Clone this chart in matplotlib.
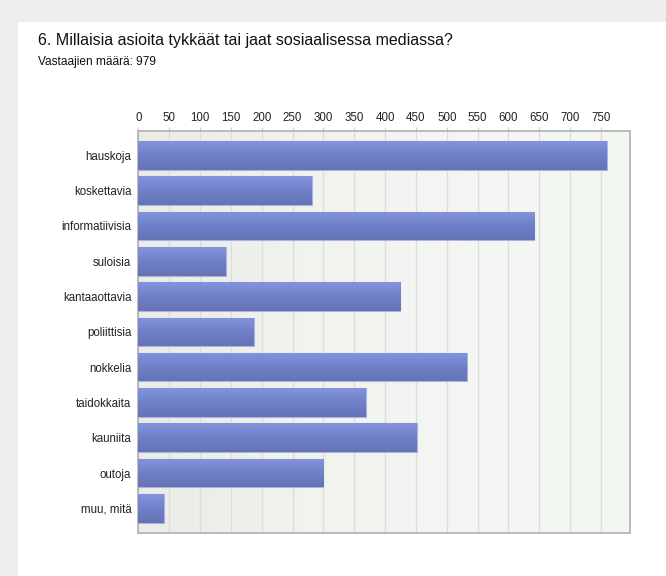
import numpy as np
import matplotlib
matplotlib.use("Agg")
import matplotlib.pyplot as plt
from matplotlib.patches import Rectangle
from matplotlib.colors import LinearSegmentedColormap

plt.rcParams["font.family"] = ["Liberation Sans", "DejaVu Sans"]

# data
categories = ["hauskoja", "koskettavia", "informatiivisia", "suloisia",
              "kantaaottavia", "poliittisia", "nokkelia", "taidokkaita",
              "kauniita", "outoja", "muu, mitä"]
counts = [760, 282, 642, 142, 425, 188, 532, 369, 451, 300, 41]
ticks = list(range(0, 751, 50))

title = "6. Millaisia asioita tykkäät tai jaat sosiaalisessa mediassa?"
subtitle = "Vastaajien määrä: 979"

W, H = 666, 576
fig = plt.figure(figsize=(W / 100, H / 100), dpi=100)
fig.patch.set_facecolor("#efefef")

# white card with a soft shadow on the left/top
for i, c in enumerate(["#e9e9e9", "#e4e4e4", "#ededed"]):
    fig.patches.append(Rectangle(((17 - i) / W, 0), 1, (H - 21 + i) / H,
                                 transform=fig.transFigure, facecolor=c,
                                 edgecolor="none", zorder=-10))
fig.patches.append(Rectangle((18 / W, 0), 1, (H - 22) / H,
                             transform=fig.transFigure, facecolor="white",
                             edgecolor="none", zorder=-9))

fig.text(38 / W, 1 - 40 / H, title, fontsize=11.5, color="#111111", va="center")
fig.text(38 / W, 1 - 62 / H, subtitle, fontsize=8.6, color="#111111", va="center")

ax = fig.add_axes([138.3 / W, 1 - 533 / H, (630 - 138.3) / W, (533 - 131) / H])

# greenish plot background gradient
bg = np.linspace(0, 1, 256).reshape(1, -1)
bg_cmap = LinearSegmentedColormap.from_list("bg", ["#e9ede5", "#f1f3ee", "#f5f6f4", "#f3f8f2"])
ax.imshow(bg, cmap=bg_cmap, aspect="auto", extent=(0, 797, 10.7, -0.69), zorder=0)

y = np.arange(len(categories))
bars = ax.barh(y, counts, height=0.81, color="#7584cc", edgecolor="#a9b3e6",
               linewidth=0.8, zorder=3)

# vertical gradient on each bar
grad = np.linspace(0, 1, 64).reshape(-1, 1)
bar_cmap = LinearSegmentedColormap.from_list("bar", ["#8393de", "#7080c8", "#6673b5"])
for b, v, yi in zip(bars, counts, y):
    im = ax.imshow(grad, cmap=bar_cmap, aspect="auto",
                   extent=(0, v, yi + 0.405, yi - 0.405), zorder=4)
    im.set_clip_path(b)
ax.set_xlim(0, 797)
ax.set_ylim(10.7, -0.69)

ax.set_xticks(ticks)
ax.xaxis.tick_top()
ax.tick_params(axis="x", length=3, width=0.8, color="#cccccc", labelsize=8.3,
               labelcolor="#222222", pad=2)
ax.set_yticks(y)
ax.set_yticklabels(categories)
ax.tick_params(axis="y", length=0, labelsize=8.3, labelcolor="#222222", pad=5)

ax.grid(axis="x", color="#dddddd", linewidth=1.0, zorder=1)
ax.set_axisbelow(True)
for s in ax.spines.values():
    s.set_color("#b0b0b0")
    s.set_linewidth(1.2)

fig.savefig("out.png", dpi=100, facecolor=fig.get_facecolor())
